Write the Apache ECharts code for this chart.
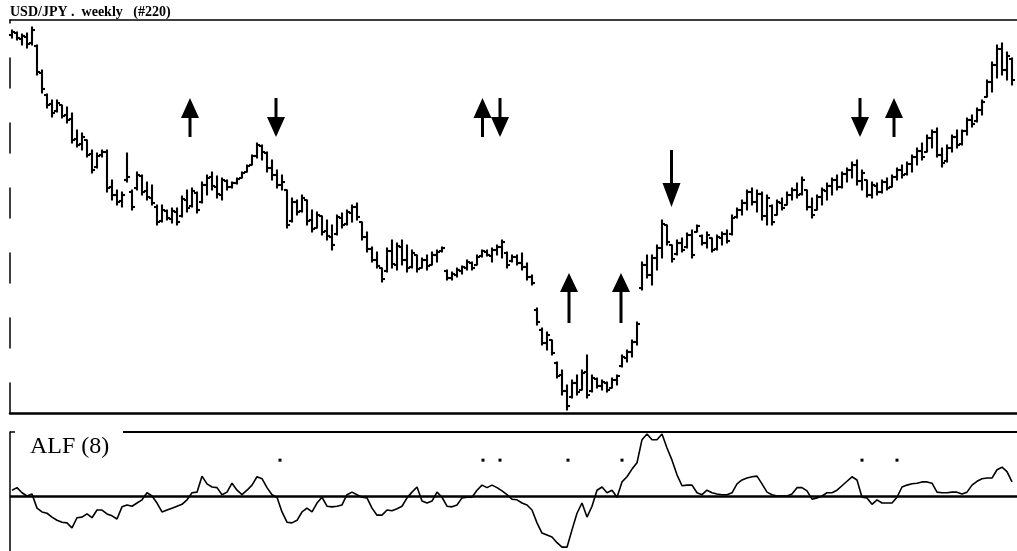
<!DOCTYPE html>
<html>
<head>
<meta charset="utf-8">
<title>USD/JPY weekly</title>
<script src="https://cdn.jsdelivr.net/npm/echarts/dist/echarts.min.js"></script>
<style>
html, body { margin: 0; padding: 0; background: #fff; }
#main { width: 1017px; height: 551px; }
</style>
</head>
<body>
<div id="main"></div>
<script>
// weekly bars, index 0..200
var openPx = [
    153.0, 153.4, 152.2, 152.6, 151.4, 150.8, 145.4, 141.0, 139.2, 137.8,
    139.0, 137.0, 136.2, 132.2, 131.2, 132.0, 129.2, 126.6, 129.0, 129.6,
    122.6, 121.0, 119.8, 124.0, 121.6, 122.4, 124.8, 121.8, 120.4, 118.6,
    115.8, 117.8, 116.2, 117.6, 116.8, 120.0, 118.8, 121.4, 119.6, 123.0,
    124.6, 122.6, 121.0, 123.8, 122.6, 123.4, 124.4, 125.6, 127.0, 128.8,
    130.8, 129.4, 126.4, 125.0, 123.0, 122.0, 115.8, 119.6, 117.8, 120.0,
    116.0, 114.4, 116.8, 113.8, 112.6, 113.2, 116.4, 115.2, 117.4, 118.6,
    115.6, 112.6, 110.2, 108.0, 106.4, 105.8, 109.8, 107.0, 110.6, 108.0,
    106.6, 109.0, 106.4, 108.0, 107.0, 109.0, 109.8, 105.8, 104.4, 105.0,
    105.8, 106.4, 107.4, 107.0, 108.8, 109.6, 108.8, 110.0, 110.6, 109.4,
    107.8, 108.6, 107.4, 106.6, 104.6, 98.0, 94.0, 91.4, 92.0, 87.4,
    85.0, 81.8, 80.6, 83.4, 82.0, 85.6, 81.8, 84.2, 82.8, 83.4,
    82.4, 84.0, 86.8, 88.4, 89.6, 91.6, 102.4, 107.0, 105.0, 108.4,
    110.4, 115.0, 111.0, 109.2, 111.4, 110.6, 113.0, 113.6, 112.8, 111.4,
    112.4, 110.2, 112.4, 113.2, 113.2, 116.6, 118.0, 119.4, 121.6, 119.6,
    121.2, 116.8, 118.8, 117.0, 119.4, 119.0, 121.0, 122.0, 121.2, 122.0,
    118.6, 118.0, 120.6, 121.8, 122.8, 124.0, 122.6, 125.2, 126.0, 127.0,
    123.8, 124.0, 121.0, 122.8, 121.6, 123.6, 122.6, 124.6, 126.0, 125.2,
    127.2, 128.6, 129.8, 129.6, 132.4, 133.6, 129.0, 127.8, 130.4, 132.6,
    131.2, 133.8, 136.0, 135.8, 138.0, 140.6, 143.6, 147.0, 150.2, 146.0, 148.2
];
var highPx = [
    154.0, 153.6, 153.2, 153.4, 154.6, 151.0, 146.0, 141.2, 140.0, 140.0,
    139.0, 138.6, 137.4, 134.0, 133.4, 132.0, 130.0, 129.4, 130.0, 130.0,
    124.0, 122.0, 121.6, 129.4, 122.0, 125.6, 125.0, 123.6, 123.0, 119.0,
    119.0, 118.0, 118.4, 118.4, 120.8, 122.0, 122.4, 121.6, 123.6, 125.0,
    125.6, 124.8, 124.4, 124.0, 123.6, 124.4, 125.6, 127.0, 129.0, 131.4,
    131.0, 129.6, 128.0, 126.0, 125.0, 122.0, 120.4, 120.0, 121.0, 120.0,
    118.0, 117.6, 116.8, 116.0, 115.0, 117.0, 117.4, 118.0, 119.0, 119.4,
    115.6, 113.6, 110.6, 109.6, 106.4, 110.4, 112.0, 111.4, 112.0, 111.0,
    110.0, 109.0, 108.4, 109.0, 109.6, 110.0, 110.6, 106.0, 105.6, 106.4,
    106.8, 108.0, 107.6, 109.0, 110.0, 110.0, 110.4, 111.0, 112.0, 109.6,
    109.0, 109.0, 109.4, 107.4, 105.0, 98.4, 94.4, 93.6, 92.0, 87.6,
    86.0, 83.0, 84.0, 85.0, 86.0, 89.0, 85.0, 84.4, 84.0, 83.6,
    84.4, 85.0, 89.0, 90.0, 92.0, 95.6, 107.6, 109.0, 109.0, 111.0,
    116.0, 115.0, 111.0, 112.0, 112.4, 113.4, 114.0, 115.0, 113.0, 113.6,
    112.4, 113.0, 113.6, 114.0, 117.0, 118.4, 120.0, 122.0, 122.4, 122.0,
    121.6, 121.0, 119.0, 120.0, 120.4, 121.6, 122.4, 123.4, 124.6, 122.0,
    120.4, 121.0, 122.4, 123.4, 124.4, 125.0, 125.6, 126.4, 127.6, 128.0,
    126.0, 124.0, 123.6, 123.4, 124.0, 124.4, 125.0, 126.4, 127.0, 127.6,
    129.0, 130.4, 131.4, 133.0, 134.0, 134.4, 130.4, 131.0, 133.0, 134.0,
    134.0, 136.4, 137.0, 138.4, 140.0, 144.0, 147.6, 151.0, 151.4, 149.6, 148.4
];
var lowPx = [
    152.4, 152.0, 151.0, 150.4, 151.0, 145.0, 141.4, 138.4, 136.6, 137.6,
    136.4, 135.4, 131.4, 130.6, 130.0, 128.6, 125.4, 126.4, 128.6, 121.6,
    120.0, 119.0, 118.6, 123.6, 118.0, 122.0, 121.0, 120.0, 119.0, 115.0,
    115.6, 116.0, 115.4, 115.0, 116.6, 117.6, 118.6, 117.4, 119.4, 121.0,
    122.0, 120.4, 120.0, 122.0, 122.4, 123.2, 124.4, 125.6, 127.0, 128.4,
    128.0, 125.6, 124.0, 122.4, 122.0, 114.4, 115.6, 117.0, 117.6, 115.0,
    113.6, 114.4, 113.0, 112.0, 110.0, 113.0, 114.4, 115.0, 115.6, 116.0,
    112.0, 109.6, 107.6, 106.4, 103.6, 105.6, 106.4, 106.0, 107.0, 105.6,
    106.4, 105.6, 106.4, 106.0, 107.0, 107.6, 109.6, 104.0, 104.0, 104.6,
    105.2, 106.0, 106.0, 107.0, 108.6, 108.8, 107.6, 109.0, 108.4, 106.4,
    107.6, 107.0, 106.0, 104.0, 103.0, 95.0, 91.0, 90.0, 89.0, 84.4,
    81.0, 78.0, 80.4, 81.0, 82.0, 80.4, 81.6, 82.4, 82.0, 81.6,
    82.4, 83.0, 86.6, 87.6, 88.6, 91.0, 102.0, 104.4, 103.0, 106.0,
    108.4, 111.0, 107.6, 109.0, 109.6, 110.4, 108.4, 113.6, 111.0, 110.4,
    109.6, 110.0, 111.0, 111.4, 113.0, 116.4, 117.0, 118.0, 119.0, 117.6,
    116.0, 115.0, 115.0, 117.0, 118.0, 119.0, 120.0, 120.4, 121.0, 118.0,
    116.4, 118.0, 119.0, 120.0, 121.0, 122.0, 122.4, 123.6, 124.4, 123.0,
    122.0, 120.6, 120.4, 121.0, 121.4, 122.0, 122.6, 124.0, 124.4, 125.0,
    125.6, 127.0, 128.0, 129.6, 130.4, 128.6, 126.6, 127.6, 129.6, 130.4,
    131.0, 133.0, 134.6, 135.6, 137.0, 140.6, 141.6, 144.4, 145.0, 144.0, 143.0
];
var closePx = [
    153.6, 152.4, 152.8, 151.2, 154.0, 145.6, 142.2, 139.0, 137.4, 139.4,
    136.8, 136.0, 132.0, 131.0, 132.6, 129.0, 126.0, 128.8, 129.6, 122.4,
    121.0, 119.6, 121.0, 124.6, 118.6, 125.0, 121.6, 120.6, 119.4, 115.6,
    118.0, 116.4, 117.8, 115.6, 120.2, 118.4, 121.8, 118.0, 123.0, 124.4,
    122.8, 121.2, 124.0, 122.6, 123.4, 124.2, 125.4, 126.8, 128.8, 131.0,
    129.6, 126.4, 125.0, 123.0, 123.6, 115.0, 119.6, 117.6, 120.4, 115.8,
    114.2, 117.0, 113.6, 112.8, 111.0, 116.6, 115.0, 117.6, 118.6, 116.6,
    112.6, 110.2, 108.0, 106.8, 104.2, 109.8, 107.2, 110.8, 108.0, 106.4,
    109.4, 106.2, 108.0, 106.8, 109.0, 109.6, 110.4, 104.4, 105.2, 106.0,
    106.6, 107.6, 106.4, 108.6, 109.8, 109.0, 110.0, 110.6, 111.6, 107.0,
    108.6, 107.4, 106.6, 104.6, 103.4, 95.6, 91.4, 93.0, 89.4, 84.8,
    81.8, 78.8, 83.4, 81.6, 85.4, 81.0, 84.4, 82.8, 83.6, 82.0,
    84.0, 84.8, 88.6, 89.6, 91.6, 95.2, 107.0, 105.0, 108.4, 110.4,
    115.2, 111.6, 108.2, 111.4, 110.0, 113.0, 109.0, 114.8, 111.4, 113.0,
    110.0, 112.6, 113.2, 111.8, 116.4, 118.0, 119.4, 121.6, 119.6, 121.2,
    116.8, 120.4, 115.6, 119.6, 118.4, 121.0, 122.0, 121.0, 124.0, 118.6,
    117.0, 120.6, 122.0, 122.8, 124.0, 122.6, 125.2, 126.0, 127.0, 123.8,
    125.4, 121.0, 123.0, 121.6, 123.6, 122.4, 124.6, 126.0, 125.0, 127.2,
    128.6, 129.8, 128.6, 132.4, 133.6, 129.0, 127.4, 130.4, 132.6, 131.0,
    133.8, 136.0, 135.2, 138.0, 139.6, 143.6, 147.0, 150.2, 146.0, 148.8, 144.0
];
// ALF (8) oscillator, same weeks
var alfVals = [
    9, 13, 5, 0, 3, -19, -25, -27, -33, -38,
    -41, -42, -50, -34, -33, -28, -34, -22, -22, -28,
    -31, -36, -17, -14, -16, -11, -6, 5, 0, -11,
    -25, -22, -19, -16, -13, -6, 5, 6, 31, 19,
    14, 13, 2, 6, 20, 9, 2, 9, 17, 30,
    27, 13, 2, -2, -25, -41, -42, -38, -25, -19,
    -25, -11, -2, -16, -17, -16, -14, 2, 6, 2,
    -2, -3, -19, -30, -30, -22, -23, -20, -16, -3,
    6, 14, -8, -11, -8, 6, -2, -16, -17, -14,
    -3, -2, -2, 9, 17, 13, 17, 13, 8, 2,
    -5, -6, -11, -14, -22, -42, -58, -61, -64, -73,
    -80, -80, -53, -27, -11, -33, -16, 9, 14, 5,
    9, -2, 22, 30, 42, 52, 88, 97, 88, 88,
    97, 75, 56, 33, 16, 17, 17, 5, 2, 9,
    5, 3, 2, 2, 5, 19, 25, 28, 30, 31,
    19, 6, 2, 0, 0, 0, 3, 13, 13, 8,
    -5, -3, 0, 5, 5, 9, 16, 23, 30, 25,
    -2, -3, -13, -6, -11, -11, -11, -2, 14, 17,
    19, 20, 22, 22, 20, 6, 5, 5, 6, 6,
    3, 6, 17, 23, 27, 28, 28, 41, 45, 38, 22
];
// signal arrows: [week, price, size]
var arrowsUp = [[35.6, 136.5, 's'], [94.1, 136.5, 's'], [176.4, 136.5, 's'], [111.4, 100.4, 'l'], [121.8, 100.4, 'l']];
var arrowsDown = [[52.8, 136.5, 's'], [97.6, 136.5, 's'], [169.6, 136.5, 's'], [131.9, 124.3, 'l']];
// signal dots in the ALF panel
var signalWeeks = [53.6, 94.2, 97.6, 111.2, 122, 170, 177];
var signalLevel = 56;

var upPath = {
    s: 'path://M9,0L18,20L10.5,20L10.5,39L7.5,39L7.5,20L0,20Z',
    l: 'path://M9,0L18,19L10.5,19L10.5,50L7.5,50L7.5,19L0,19Z'
};
var downPath = {
    s: 'path://M7.5,0L10.5,0L10.5,19L18,19L9,39L0,19L7.5,19Z',
    l: 'path://M7.5,0L10.5,0L10.5,33L18,33L9,57L0,33L7.5,33Z'
};
var arrowSize = { up: { s: [18, 39], l: [18, 50] }, down: { s: [18, 39], l: [18, 57] } };

var ohlc = [], alfLine = [];
for (var i = 0; i < closePx.length; i++) {
    ohlc.push([i, openPx[i], highPx[i], lowPx[i], closePx[i]]);
    alfLine.push([i, alfVals[i]]);
}
var arrowData = [];
arrowsUp.forEach(function (a) {
    arrowData.push({ value: [a[0], a[1]], symbol: upPath[a[2]], symbolSize: arrowSize.up[a[2]] });
});
arrowsDown.forEach(function (a) {
    arrowData.push({ value: [a[0], a[1]], symbol: downPath[a[2]], symbolSize: arrowSize.down[a[2]] });
});
var dotData = signalWeeks.map(function (w) { return [w, signalLevel]; });

function renderBar(params, api) {
    var x = api.value(0);
    var o = api.coord([x, api.value(1)]);
    var h = api.coord([x, api.value(2)]);
    var l = api.coord([x, api.value(3)]);
    var c = api.coord([x, api.value(4)]);
    var st = { stroke: '#000', lineWidth: 2.1 };
    return {
        type: 'group',
        children: [
            { type: 'line', shape: { x1: h[0], y1: h[1] - 0.5, x2: l[0], y2: l[1] + 0.5 }, style: st },
            { type: 'line', shape: { x1: o[0] - 3, y1: o[1], x2: o[0], y2: o[1] }, style: st },
            { type: 'line', shape: { x1: c[0], y1: c[1], x2: c[0] + 3, y2: c[1] }, style: st }
        ]
    };
}

var hidden = { show: false };
var myChart = echarts.init(document.getElementById('main'));
var option = {
    animation: false,
    backgroundColor: '#fff',
    title: [
        {
            text: 'USD/JPY .  weekly   (#220)',
            left: 10, top: 5, padding: 0,
            textStyle: { fontFamily: 'Liberation Serif', fontSize: 14, fontWeight: 'bold', color: '#000' }
        },
        {
            text: 'ALF (8)',
            left: 30, top: 435, padding: 0,
            textStyle: { fontFamily: 'Liberation Serif', fontSize: 24, fontWeight: 'normal', color: '#000' }
        }
    ],
    grid: [
        { left: 10, right: 0, top: 20, bottom: 138 },
        { left: 10, right: 0, top: 432, bottom: 0 }
    ],
    xAxis: [
        {
            type: 'value', gridIndex: 0, min: -0.4, max: 201, position: 'bottom',
            axisLine: { show: true, onZero: false, lineStyle: { color: '#000', width: 2.5 } },
            axisTick: hidden, axisLabel: hidden, splitLine: hidden
        },
        {
            type: 'value', gridIndex: 1, min: -0.4, max: 201,
            axisLine: hidden, axisTick: hidden, axisLabel: hidden, splitLine: hidden
        },
        {
            type: 'value', gridIndex: 0, min: -0.4, max: 201, position: 'top',
            axisLine: { show: true, onZero: false, lineStyle: { color: '#000', width: 1.5 } },
            axisTick: hidden, axisLabel: hidden, splitLine: hidden
        }
    ],
    yAxis: [
        {
            type: 'value', gridIndex: 0, min: 77.4, max: 156,
            axisLine: { show: true, onZero: false, lineStyle: { color: '#000', width: 1.5, type: [30, 35] } },
            axisTick: hidden, axisLabel: hidden, splitLine: hidden
        },
        {
            type: 'value', gridIndex: 1, min: -86, max: 100,
            axisLine: { show: true, onZero: false, lineStyle: { color: '#000', width: 1.5 } },
            axisTick: hidden, axisLabel: hidden, splitLine: hidden
        }
    ],
    graphic: [
        { type: 'line', shape: { x1: 123, y1: 432, x2: 1017, y2: 432 }, style: { stroke: '#000', lineWidth: 2 } },
        { type: 'line', shape: { x1: 10, y1: 432, x2: 15, y2: 432 }, style: { stroke: '#000', lineWidth: 1.5 } }
    ],
    series: [
        {
            name: 'USD/JPY',
            type: 'custom',
            xAxisIndex: 0, yAxisIndex: 0,
            renderItem: renderBar,
            encode: { x: 0, y: [1, 2, 3, 4] },
            data: ohlc,
            silent: true
        },
        {
            name: 'signals',
            type: 'scatter',
            xAxisIndex: 0, yAxisIndex: 0,
            itemStyle: { color: '#000', opacity: 1 },
            data: arrowData,
            silent: true
        },
        {
            name: 'ALF (8)',
            type: 'line',
            xAxisIndex: 1, yAxisIndex: 1,
            showSymbol: false,
            lineStyle: { color: '#000', width: 1.6 },
            data: alfLine,
            silent: true,
            markLine: {
                silent: true,
                symbol: ['none', 'none'],
                label: { show: false },
                lineStyle: { color: '#000', width: 2.5, type: 'solid' },
                data: [{ yAxis: 0 }]
            }
        },
        {
            name: 'dots',
            type: 'scatter',
            xAxisIndex: 1, yAxisIndex: 1,
            symbol: 'rect',
            symbolSize: 3,
            itemStyle: { color: '#000', opacity: 1 },
            data: dotData,
            silent: true
        }
    ]
};
myChart.setOption(option);
</script>
</body>
</html>
